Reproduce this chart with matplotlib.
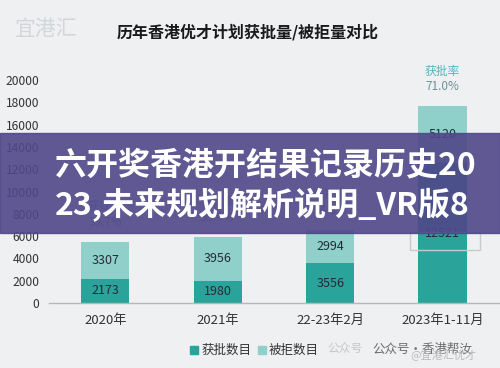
import numpy as np
import matplotlib
matplotlib.use("Agg")
import matplotlib.pyplot as plt
from matplotlib.patches import Rectangle

plt.rcParams['font.family'] = ['Noto Sans CJK SC', 'DejaVu Sans']

# ── data ──────────────────────────────────────────────────────────────────────
categories = ['2020年', '2021年', '22-23年2月', '2023年1-11月']
approved = [2173, 1980, 3556, 12521]
rejected = [3307, 3956, 2994, 5120]
yticks = [0, 2000, 4000, 6000, 8000, 10000, 12000, 14000, 16000, 18000, 20000]

BG = "#eef0f1"
C_APP = "#2aa39a"
C_REJ = "#8fd1ca"
TXT = "#222b36"

fig = plt.figure(figsize=(5.0, 3.68), dpi=100, facecolor=BG)
ax = fig.add_axes([0.098, 0.1766, 0.902, 0.636], facecolor=BG)

x = np.arange(len(categories))
app = np.array(approved)
rej = np.array(rejected)
w = 0.43
ax.bar(x, app, width=w, color=C_APP, zorder=2)
ax.bar(x, rej, width=w, bottom=app, color=C_REJ, zorder=2)

for i in range(len(x)):
    ax.text(x[i], app[i] / 2, f"{app[i]}", ha="center", va="center",
            fontsize=9, fontweight="medium", color=TXT, zorder=3)
    ax.text(x[i], app[i] + rej[i] / 2, f"{rej[i]}", ha="center", va="center",
            fontsize=9, fontweight="medium", color=TXT, zorder=3)
    rate = app[i] / (app[i] + rej[i]) * 100
    top = app[i] + rej[i]
    ax.annotate(f"{rate:.1f}%", (x[i], top), xytext=(0, 14), textcoords="offset points",
                ha="center", va="center", fontsize=8.5, color="#6c9297")
    ax.annotate("获批率", (x[i], top), xytext=(0, 25.5), textcoords="offset points",
                ha="center", va="center", fontsize=8.5, color="#55b3bb")

ax.set_xlim(-0.5, 3.51)
ax.set_ylim(0, 21000)
ax.set_yticks(yticks)
ax.set_yticklabels([str(t) for t in yticks])
ax.set_xticks(x)
ax.set_xticklabels(categories)
ax.tick_params(axis="y", length=0, labelsize=8.7, colors="#333333", pad=7)
ax.tick_params(axis="x", length=0, labelsize=9.5, colors="#333333", pad=8)
for s in ["top", "right", "left"]:
    ax.spines[s].set_visible(False)
ax.spines["bottom"].set_color("#b5b8ba")
ax.spines["bottom"].set_linewidth(1.0)

# title and watermark
fig.text(0.496, 0.913, "历年香港优才计划获批量/被拒量对比", ha="center", va="center",
         fontsize=11.5, fontweight="bold", color="#1a1a1a")
fig.text(0.03, 0.922, "宜港汇", ha="left", va="center", fontsize=15, color="#d3d6d8")

# legend
fig.patches.append(Rectangle((0.380, 0.037), 0.016, 0.022, transform=fig.transFigure,
                             color=C_APP))
fig.text(0.403, 0.048, "获批数目", ha="left", va="center", fontsize=9, color="#333333")
fig.patches.append(Rectangle((0.516, 0.037), 0.016, 0.022, transform=fig.transFigure,
                             color=C_REJ))
fig.text(0.537, 0.048, "被拒数目", ha="left", va="center", fontsize=9, color="#333333")

# overlaid watermarks
fig.text(0.655, 0.052, "公众号", ha="left", va="center", fontsize=8.5, color="#c4c6c8")
fig.text(0.745, 0.052, "公众号·香港帮汝", ha="left", va="center", fontsize=9,
         color="#555555", alpha=0.85)
fig.text(0.82, 0.035, "@宜港汇优才", ha="left", va="center", fontsize=8, color="#b8babc")
fig.patches.append(Rectangle((0.82, 0.32), 0.14, 0.05, transform=fig.transFigure,
                             fill=False, edgecolor="#c8cacc", lw=1.0, zorder=1))

# banner overlay
fig.patches.append(Rectangle((0, 1 - 233 / 368), 1, 100 / 368, transform=fig.transFigure,
                             color="#4f4789", alpha=0.9, zorder=10))
fig.text(0.11, 1 - 165 / 368, "六开奖香港开结果记录历史20", ha="left", va="center",
         fontsize=23, fontweight="bold", color="white", zorder=11)
fig.text(0.11, 1 - 205 / 368, "23,未来规划解析说明_VR版8", ha="left", va="center",
         fontsize=23, fontweight="bold", color="white", zorder=11)

fig.savefig("out.png", dpi=100, facecolor=BG)
